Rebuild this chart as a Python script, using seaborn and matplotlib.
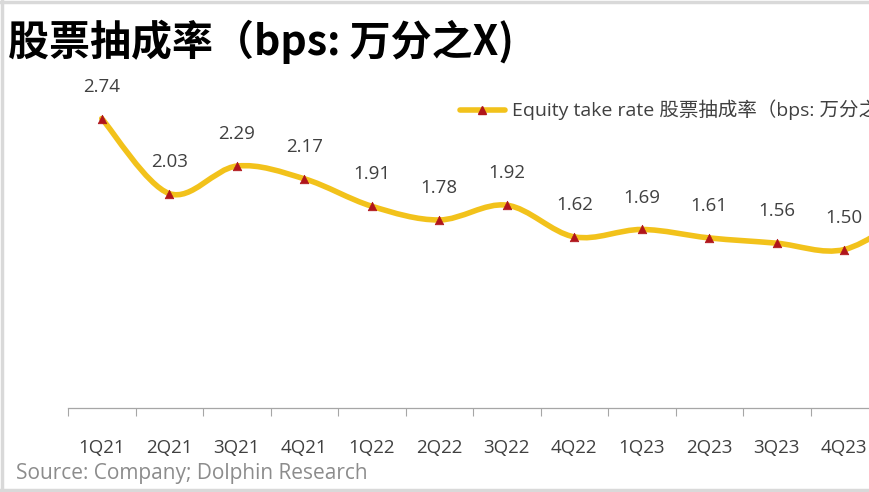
import numpy as np
import pandas as pd
import seaborn as sns
import matplotlib
matplotlib.use("Agg")
import matplotlib.pyplot as plt
from matplotlib.path import Path
from matplotlib.patches import PathPatch
from matplotlib.lines import Line2D

# ---- data ----
quarters = ["1Q21", "2Q21", "3Q21", "4Q21", "1Q22", "2Q22", "3Q22", "4Q22",
            "1Q23", "2Q23", "3Q23", "4Q23", "1Q24"]
take_rate = [2.74, 2.03, 2.29, 2.17, 1.91, 1.78, 1.92, 1.62,
             1.69, 1.61, 1.56, 1.50, 1.86]
series_label = "Equity take rate 股票抽成率（bps: 万分之X）"
title_text = "股票抽成率（bps: 万分之X)"
source_text = "Source: Company; Dolphin Research"

df = pd.DataFrame({"quarter": quarters, "rate": take_rate})
df["pos"] = np.arange(len(df))

sns.set_theme(style="white")
plt.rcParams["font.family"] = ["Noto Sans CJK SC", "DejaVu Sans"]

LINE_C = "#F2C21B"
MARK_C = "#B0151B"
TXT_C = "#404040"

fig = plt.figure(figsize=(8.7, 4.92), dpi=100)
ax = fig.add_axes([68 / 870, 84 / 492, 1 - 68 / 870, 0.7515])

# smooth curve (Catmull-Rom rendered as cubic Bezier path)
xs = df["pos"].to_numpy(float)
ys = df["rate"].to_numpy(float)
pts = np.column_stack([xs, ys])
ext = np.vstack([pts[0], pts, pts[-1]])
verts = [tuple(pts[0])]
codes = [Path.MOVETO]
for i in range(1, len(ext) - 2):
    p0, p1, p2, p3 = ext[i - 1], ext[i], ext[i + 1], ext[i + 2]
    c1 = p1 + (p2 - p0) / 6.0
    c2 = p2 - (p3 - p1) / 6.0
    verts += [tuple(c1), tuple(c2), tuple(p2)]
    codes += [Path.CURVE4] * 3
ax.add_patch(PathPatch(Path(verts, codes), facecolor="none", edgecolor=LINE_C,
                       lw=4.0, capstyle="round", joinstyle="round", zorder=2))

sns.scatterplot(data=df, x="pos", y="rate", ax=ax, marker="^", s=38,
                color=MARK_C, edgecolor=MARK_C, linewidth=0.5, zorder=3,
                legend=False)

for x, y in zip(xs, ys):
    ax.annotate(f"{y:.2f}", (x, y), xytext=(0, 23), textcoords="offset points",
                ha="center", va="center", fontsize=13.5, color=TXT_C,
                family=["Open Sans", "DejaVu Sans"])

ax.set_xticks(xs)
ax.set_xticklabels(quarters, fontsize=13.5, color=TXT_C,
                   family=["Open Sans", "DejaVu Sans"])
ax.set_xticks(np.arange(-0.5, len(xs), 1.0), minor=True)
ax.set_xlim(-0.5, -0.5 + 802 / 67.5)
ax.set_ylim(0, 3.5)
ax.tick_params(axis="x", which="major", length=0, pad=22)
ax.tick_params(axis="x", which="minor", length=6, width=0.8, color="#A6A6A6",
               direction="out", bottom=True)
ax.set_yticks([])
ax.set_xlabel("")
ax.set_ylabel("")
for s in ["top", "right", "left"]:
    ax.spines[s].set_visible(False)
ax.spines["bottom"].set_color("#A6A6A6")
ax.spines["bottom"].set_linewidth(0.9)
ax.patch.set_alpha(0)

handle = Line2D([], [], color=LINE_C, lw=4.0, marker="^", markersize=6,
                markerfacecolor=MARK_C, markeredgecolor=MARK_C)
fig.legend([handle], [series_label], loc="center left",
           bbox_to_anchor=(460 / 870, 1 - 110 / 492), frameon=False,
           handlelength=2.3, handletextpad=0.35, borderpad=0,
           borderaxespad=0, labelcolor=TXT_C,
           prop={"family": ["Open Sans", "Noto Sans CJK SC"], "size": 14})

fig.text(8 / 870, 1 - 42 / 492, title_text, fontsize=29.5, fontweight="bold",
         color="black", ha="left", va="center",
         family=["Noto Sans CJK SC", "DejaVu Sans"])
fig.text(16 / 870, 1 - 474 / 492, source_text, fontsize=15, color="#8C8C8C",
         ha="left", va="center", family=["Open Sans", "DejaVu Sans"])

# light frame around image
for (x0, y0, x1, y1) in [(0.002, 0, 0.002, 1), (0, 0.996, 1, 0.996),
                         (0, 0.004, 1, 0.004)]:
    fig.add_artist(Line2D([x0, x1], [y0, y1], color="#D9D9D9", lw=2.5,
                          transform=fig.transFigure))

fig.savefig("out.png", dpi=100)
